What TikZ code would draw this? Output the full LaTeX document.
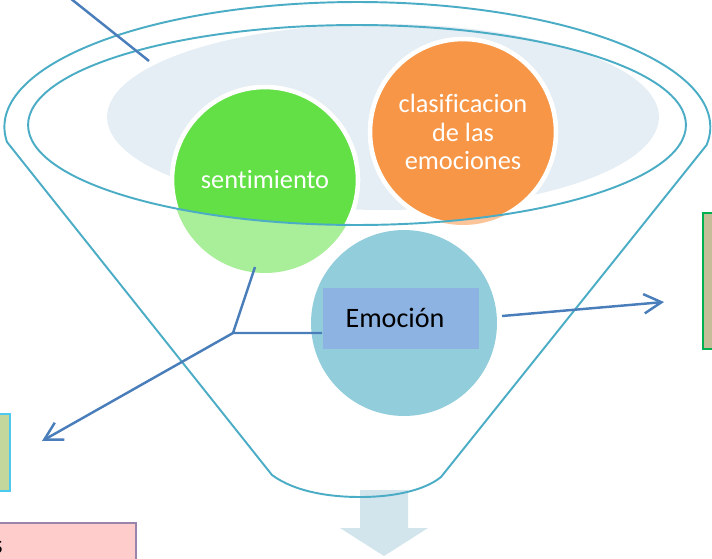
\documentclass[tikz,border=0pt]{standalone}
\usepackage{fontspec}
\setmainfont[Ligatures=NoCommon]{Carlito}
\usepackage{tikz}
\usetikzlibrary{arrows.meta}
\definecolor{funnelline}{HTML}{4BACC6}
\definecolor{linkblue}{HTML}{4A7EBB}
\definecolor{innerfill}{HTML}{E5EEF4}
\definecolor{sentgreen}{HTML}{62E046}
\definecolor{clasorange}{HTML}{F79646}
\definecolor{emoaqua}{HTML}{92CDDC}
\definecolor{emobox}{HTML}{8DB3E2}
\definecolor{downarrow}{HTML}{D2E4EC}
\definecolor{leftboxfill}{HTML}{C3D69B}
\definecolor{leftboxline}{HTML}{4BC9EE}
\definecolor{rightboxfill}{HTML}{C4BD97}
\definecolor{rightboxline}{HTML}{00B050}
\definecolor{pinkfill}{HTML}{FFCCCC}
\definecolor{pinkline}{HTML}{9A84AC}
\tikzset{>={Straight Barb[length=10pt,width=11pt]}}
\tikzset{
  bubble/.style={circle, minimum size=3.72cm, inner sep=0pt, draw=white, line width=2.6pt,
    text=white, align=center, font=\fontsize{15}{16}\selectfont},
  funnel/.style={draw=funnelline, line width=1.1pt},
  link/.style={draw=linkblue, line width=1.4pt},
  sidebox/.style={line width=0.9pt, inner sep=0pt}
}

\begin{document}
\begin{tikzpicture}[x=0.02cm, y=-0.02cm]
    \useasboundingbox (0,0) rectangle (712,558);
    % arrow out of the funnel
    \fill[downarrow] (360,490) -- (408,490) -- (408,528) -- (428,528) -- (384,556) -- (340,528) -- (360,528) -- cycle;
    % mouth of the funnel
    \fill[innerfill] (383,117) ellipse [x radius=5.52cm, y radius=1.86cm];
    \fill[sentgreen!55!white] (265,180) circle [radius=1.86cm];
    \fill[clasorange!55!white] (463,132) circle [radius=1.86cm];
    \begin{scope}
      \clip (357,125) ellipse [x radius=6.58cm, y radius=2cm];
      \node[bubble, fill=sentgreen] (sent) at (265,180) {sentimiento};
      \node[bubble, fill=clasorange] (clas) at (463,132) {clasificacion\\de las\\emociones};
    \end{scope}
    % funnel outline
    \draw[funnel] (357,125) ellipse [x radius=6.58cm, y radius=2cm];
    \draw[funnel] (7,142) arc [start angle=186.9, end angle=-8.3, x radius=7.06cm, y radius=2.5cm]
      -- (441,477) .. controls (425,490) and (395,497) .. (360,497)
      .. controls (330,497) and (295,492) .. (272,475) -- cycle;
    % emocion
    \node[circle, fill=emoaqua, minimum size=3.72cm, inner sep=0pt] (emocirc) at (404,323) {};
    \node[fill=emobox, minimum width=3.14cm, minimum height=1.22cm, inner sep=0pt,
      font=\fontsize{16}{18}\selectfont] (emo) at (401,318) {Emoción\kern0.24cm};
    % side boxes
    \node[sidebox, draw=leftboxline, fill=leftboxfill, minimum width=0.6cm, minimum height=1.54cm,
      anchor=north east] (leftbox) at (11,413) {};
    \node[sidebox, draw=rightboxline, fill=rightboxfill, minimum width=0.6cm, minimum height=2.72cm,
      anchor=north west] (rightbox) at (702,212) {};
    \node[sidebox, draw=pinkline, fill=pinkfill, minimum width=3cm, minimum height=1cm,
      anchor=north east] (pinkbox) at (137,522) {};
    \node[anchor=base east, inner sep=0pt, font=\fontsize{15}{16}\selectfont] (pinktext) at (3,553) {s};
    % connectors
    \coordinate (junc) at (233,333);
    \coordinate (sentend) at (255,267);
    \coordinate (lefttip) at (42,441);
    \coordinate (emoout) at (502,316);
    \coordinate (righttip) at (664,302);
    \coordinate (topstart) at (70,-2);
    \coordinate (topend) at (149,61);
    \draw[link] ([yshift=-0.3cm]emo.west) -- (junc) -- (sentend);
    \draw[link, ->] (junc) -- (lefttip);
    \draw[link, ->] (emoout) -- (righttip);
    \draw[link] (topstart) -- (topend);
\end{tikzpicture}
\end{document}
